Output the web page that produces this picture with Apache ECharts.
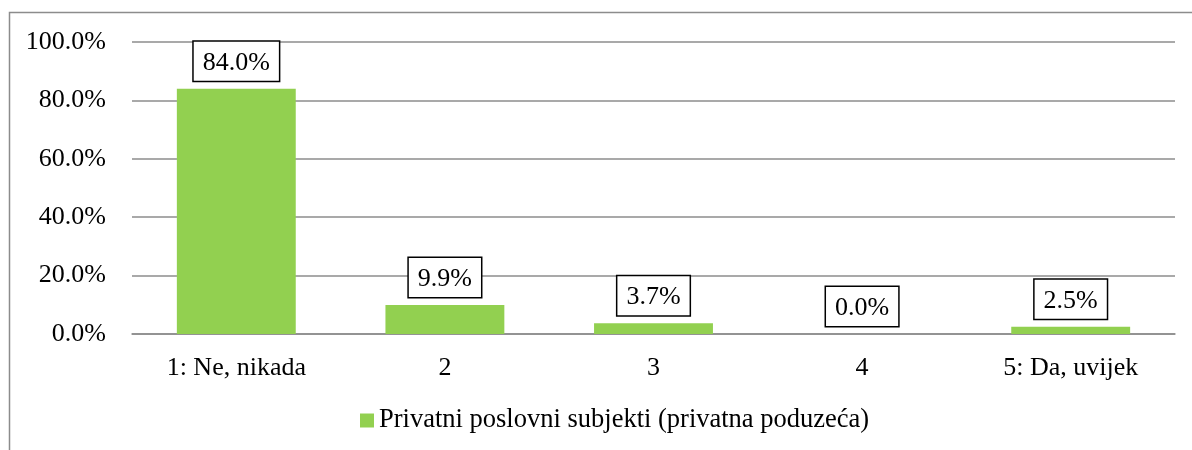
<!DOCTYPE html>
<html>
<head>
<meta charset="utf-8">
<script src="https://cdn.jsdelivr.net/npm/echarts@6/dist/echarts.min.js"></script>
<style>
  html, body { margin: 0; padding: 0; background: #fff; }
  #container { width: 1192px; height: 450px; }
</style>
</head>
<body>
<div id="container"></div>
<script>
	var categories = ['1: Ne, nikada', '2', '3', '4', '5: Da, uvijek'];
	var seriesName = 'Privatni poslovni subjekti (privatna poduzeća)';
	var values = [84.0, 9.9, 3.7, 0.0, 2.5];

	var font = '"Liberation Serif", "Times New Roman", serif';
	var dom = document.getElementById('container');
	var myChart = echarts.init(dom);

	var option = {
		animation: false,
		textStyle: { fontFamily: font },
		// outer chart border (right and bottom edges are cut off in the original)
		graphic: [{
			type: 'rect',
			shape: { x: 9.5, y: 12.5, width: 1200, height: 460 },
			style: { fill: 'none', stroke: '#8c8c8c', lineWidth: 1.5 },
			silent: true
		}],
		grid: { left: 132, right: 17, top: 42, bottom: 116 },
		legend: {
			bottom: 11,
			left: 355,
			itemWidth: 14,
			itemHeight: 14,
			itemGap: 6,
			icon: 'rect',
			textStyle: { fontFamily: font, fontSize: 26.5, color: '#000' },
			data: [seriesName]
		},
		xAxis: {
			type: 'category',
			data: categories,
			axisTick: { show: false },
			axisLine: { lineStyle: { color: '#8c8c8c', width: 1.5 } },
			axisLabel: { fontFamily: font, fontSize: 26, color: '#000', margin: 21 }
		},
		yAxis: {
			type: 'value',
			min: 0,
			max: 100,
			interval: 20,
			axisLine: { show: false },
			axisTick: { show: false },
			splitLine: { lineStyle: { color: '#8c8c8c', width: 1.5 } },
			axisLabel: {
				fontFamily: font, fontSize: 26, color: '#000', margin: 26,
				formatter: function (v) { return v.toFixed(1) + '%'; }
			}
		},
		series: [{
			name: seriesName,
			type: 'bar',
			data: values,
			barWidth: '57%',
			itemStyle: { color: '#92D050' },
			label: {
				show: true,
				position: 'top',
				distance: 8,
				fontFamily: font,
				fontSize: 26,
				color: '#000',
				backgroundColor: '#fff',
				borderColor: '#000',
				borderWidth: 1.5,
				padding: [8, 9, 5, 9],
				formatter: function (p) { return p.value.toFixed(1) + '%'; }
			}
		}]
	};
	myChart.setOption(option);
</script>
</body>
</html>
